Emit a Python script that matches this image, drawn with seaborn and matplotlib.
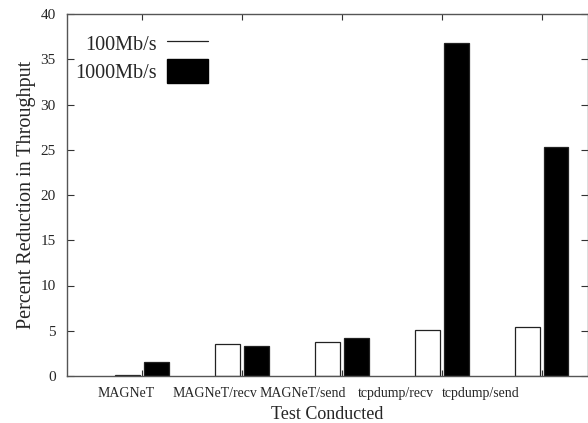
import matplotlib
matplotlib.use("Agg")
import matplotlib.pyplot as plt
import seaborn as sns
import pandas as pd
from matplotlib.lines import Line2D
from matplotlib.patches import Patch

categories = ["MAGNeT", "MAGNeT/recv", "MAGNeT/send", "tcpdump/recv", "tcpdump/send"]
series_names = ["100Mb/s", "1000Mb/s"]
values_100 = [0.1, 3.57, 3.72, 5.08, 5.45]
values_1000 = [1.51, 3.28, 4.16, 36.76, 25.3]
yticks = [0, 5, 10, 15, 20, 25, 30, 35, 40]

df = pd.DataFrame({
    "test": categories * 2,
    "speed": [series_names[0]] * len(categories) + [series_names[1]] * len(categories),
    "value": values_100 + values_1000,
})

sns.set_theme(style="white")
plt.rcParams["font.family"] = ["Liberation Serif", "DejaVu Serif"]

fig = plt.figure(figsize=(5.88, 4.23), dpi=100)
ax = fig.add_axes([67 / 588, 1 - 376 / 423, (587.5 - 67) / 588, (376 - 14) / 423])

sns.barplot(data=df, x="test", y="value", hue="speed", order=categories,
            hue_order=series_names, palette=["white", "black"],
            width=0.58, gap=0.14, edgecolor="#222222", linewidth=0.9,
            ax=ax, legend=False, errorbar=None, saturation=1)

ax.set_xlim(-0.75, 4.46)
ax.set_ylim(0, 40)
ax.set_yticks(yticks)
ax.set_yticklabels([str(t) for t in yticks], fontsize=11)

# major ticks at group centers (no labels), labels on minor positions
ax.set_xticks(range(len(categories)))
ax.set_xticklabels([""] * len(categories))
label_pos = [-0.16, 0.73, 1.61, 2.54, 3.39]
ax.set_xticks(label_pos, minor=True)
ax.set_xticklabels(categories, minor=True, fontsize=10)
ax.tick_params(axis="x", which="minor", length=0, pad=8)
ax.tick_params(axis="x", which="major", direction="in", length=4, width=0.8,
               top=True, bottom=True, color="#333333")
ax.tick_params(axis="y", which="major", direction="in", length=5, width=0.8,
               left=True, right=True, color="#333333", pad=8)

for s in ["left", "right", "top", "bottom"]:
    ax.spines[s].set_visible(True)
    ax.spines[s].set_color("#555555")
    ax.spines[s].set_linewidth(1.0)

ax.set_xlabel("Test Conducted", fontsize=13, labelpad=4.5)
ax.set_ylabel("Percent Reduction in Throughput", fontsize=14.5, labelpad=3)
ax.grid(False)

handles = [Line2D([0], [0], color="#222222", lw=0.9),
           Patch(facecolor="black", edgecolor="black")]
leg = ax.legend(handles, series_names, loc="upper left", bbox_to_anchor=(-0.019, 1.0024),
                frameon=False, fontsize=14.5, markerfirst=False, handlelength=2.04,
                handleheight=1.49, labelspacing=0.15, handletextpad=0.5)

fig.savefig("out.png", dpi=100)
